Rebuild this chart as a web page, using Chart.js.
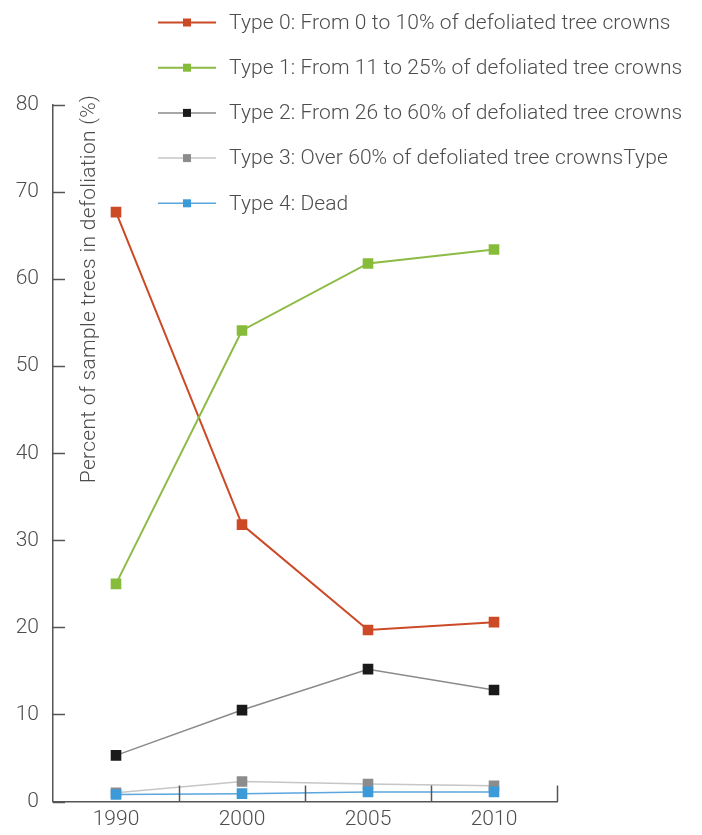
<!DOCTYPE html>
<html>
<head>
<meta charset="utf-8">
<script src="https://cdn.jsdelivr.net/npm/chart.js@4/dist/chart.umd.min.js"></script>
<style>
  html, body { margin: 0; padding: 0; background: #ffffff; }
  #wrap { position: relative; width: 702px; height: 835px; }
</style>
</head>
<body>
<div id="wrap"><canvas id="c" width="702" height="835"></canvas></div>
<script>
const years = ['1990', '2000', '2005', '2010'];
const yTicks = [0, 10, 20, 30, 40, 50, 60, 70, 80];
const seriesLabels = [
  'Type 0: From 0 to 10% of defoliated tree crowns',
  'Type 1: From 11 to 25% of defoliated tree crowns',
  'Type 2: From 26 to 60% of defoliated tree crowns',
  'Type 3: Over 60% of defoliated tree crownsType',
  'Type 4: Dead'
];
const type0 = [67.7, 31.8, 19.7, 20.6];
const type1 = [25.0, 54.1, 61.8, 63.4];
const type2 = [5.3, 10.5, 15.2, 12.8];
const type3 = [1.0, 2.3, 2.0, 1.8];
const type4 = [0.8, 0.9, 1.1, 1.1];
const yTitle = 'Percent of sample trees in defoliation (%)';

const FONT = 'Roboto, "Liberation Sans", sans-serif';
const TEXT = '#4d4d4d';
const AXIS = '#555555';

const styles = [
  { line: '#cc4a26', point: '#cc4a26', w: 2 },
  { line: '#8dbb45', point: '#86bc3a', w: 2 },
  { line: '#8a8a8a', point: '#1a1a1a', w: 1.5 },
  { line: '#c6c6c6', point: '#8c8c8c', w: 1.5 },
  { line: '#5aa6de', point: '#3d9ad9', w: 1.5 }
];
const allData = [type0, type1, type2, type3, type4];

const datasets = allData.map((d, i) => ({
  label: seriesLabels[i],
  data: d,
  borderColor: styles[i].line,
  borderWidth: styles[i].w,
  backgroundColor: styles[i].point,
  pointStyle: 'rect',
  pointRadius: 7.5,
  pointHoverRadius: 7.5,
  pointBorderWidth: 0,
  pointBackgroundColor: styles[i].point,
  tension: 0,
  order: 4 - i
}));

const decorPlugin = {
  id: 'decor',
  afterDraw(chart) {
    const ctx = chart.ctx;
    const ca = chart.chartArea;
    const xs = chart.scales.x;
    const ys = chart.scales.y;
    ctx.save();
    ctx.strokeStyle = AXIS;
    ctx.lineWidth = 1.5;
    // y tick marks inside
    yTicks.forEach(v => {
      const y = Math.round(ys.getPixelForValue(v)) + 0.5;
      ctx.beginPath();
      ctx.moveTo(ca.left, y);
      ctx.lineTo(ca.left + 12, y);
      ctx.stroke();
    });
    // x category boundary marks, upward
    const step = xs.getPixelForValue(1) - xs.getPixelForValue(0);
    for (let i = 0; i < years.length; i++) {
      const x = Math.round(xs.getPixelForValue(i) + step / 2) + 0.5;
      ctx.beginPath();
      ctx.moveTo(x, ca.bottom);
      ctx.lineTo(x, ca.bottom - 16);
      ctx.stroke();
    }
    // y title
    ctx.fillStyle = TEXT;
    ctx.font = '300 21px ' + FONT;
    ctx.letterSpacing = '0.3px';
    ctx.textAlign = 'center';
    ctx.textBaseline = 'middle';
    ctx.translate(90, 289);
    ctx.rotate(-Math.PI / 2);
    ctx.fillText(yTitle, 0, 0);
    ctx.restore();

    // legend
    ctx.save();
    ctx.font = '300 21px ' + FONT;
    ctx.letterSpacing = '0.1px';
    ctx.textAlign = 'left';
    ctx.textBaseline = 'middle';
    chart.data.datasets.forEach((ds, i) => {
      const y = 22.5 + i * 45.2;
      ctx.strokeStyle = styles[i].line;
      ctx.lineWidth = styles[i].w;
      ctx.beginPath();
      ctx.moveTo(158, y);
      ctx.lineTo(216, y);
      ctx.stroke();
      ctx.fillStyle = styles[i].point;
      ctx.fillRect(183, y - 4, 8, 8);
      ctx.fillStyle = TEXT;
      ctx.fillText(ds.label, 229, y + 1);
    });
    ctx.restore();
  }
};

new Chart(document.getElementById('c'), {
  type: 'line',
  data: { labels: years, datasets },
  options: {
    responsive: false,
    animation: false,
    events: [],
    layout: { padding: { left: 0, right: 145, top: 105, bottom: 0 } },
    plugins: { legend: { display: false }, tooltip: { enabled: false } },
    scales: {
      x: {
        offset: true,
        afterFit(s) { s.height = 33.5; },
        grid: { display: false, drawTicks: false },
        border: { display: true, color: AXIS, width: 1.5 },
        ticks: { color: TEXT, font: { family: FONT, size: 21, weight: '300' }, padding: 6, maxRotation: 0 }
      },
      y: {
        min: 0, max: 80,
        afterFit(s) { s.width = 53; },
        afterBuildTicks(s) { s.ticks = yTicks.map(v => ({ value: v })); },
        grid: { display: false, drawTicks: false },
        border: { display: true, color: AXIS, width: 1.5 },
        ticks: { color: TEXT, font: { family: FONT, size: 21, weight: '300' }, padding: 14 }
      }
    }
  },
  plugins: [decorPlugin]
});
</script>
</body>
</html>
